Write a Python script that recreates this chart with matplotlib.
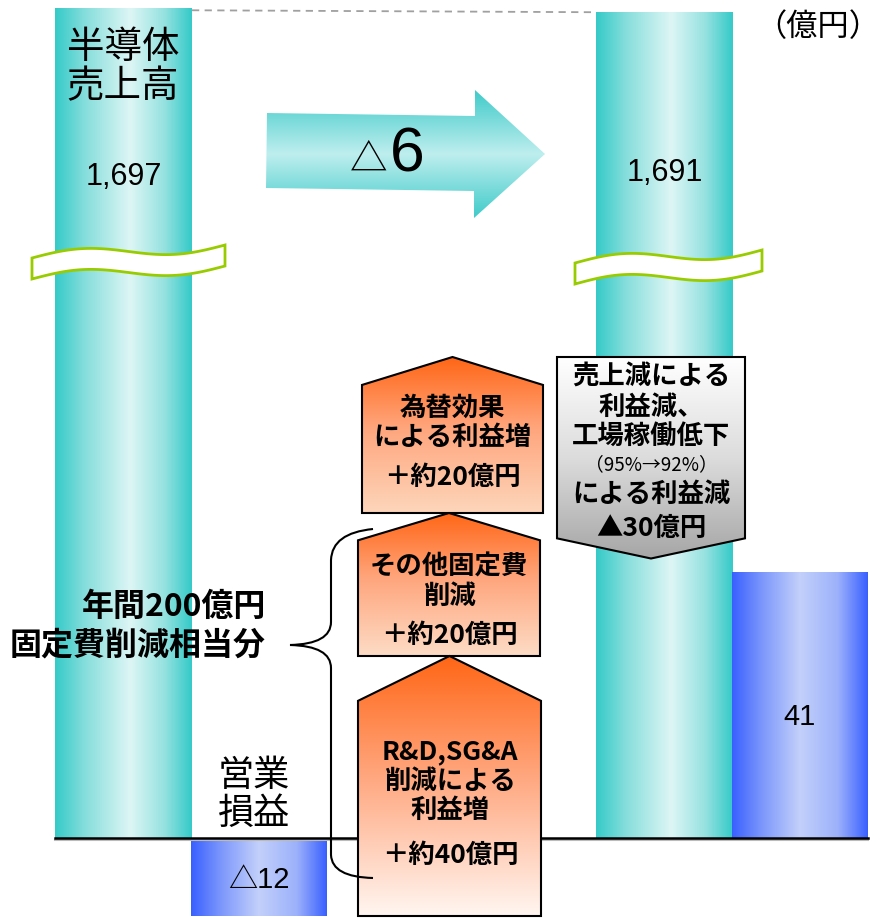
import numpy as np
import matplotlib
matplotlib.use('Agg')
import matplotlib.pyplot as plt
from matplotlib.patches import Polygon, PathPatch
from matplotlib.path import Path
from matplotlib.colors import LinearSegmentedColormap

# ---------------- data ----------------
sales_values = [1697, 1691]
sales_labels = ['1,697', '1,691']
sales_change_label = '△6'
profit_values = [-12, 41]
profit_labels = ['△12', '41']
step_names = ['R&D,SG&A\n削減による\n利益増', 'その他固定費\n削減', '為替効果\nによる利益増',
              '売上減による\n利益減、\n工場稼働低下']
step_values = [40, 22, 24, -31]
step_amount_labels = ['＋約40億円', '＋約20億円', '＋約20億円', '▲30億円']
sales_note = '（95%→92%）'
sales_tail = 'による利益減'
unit_label = '（億円）'
sales_title = '半導体\n売上高'
profit_title = '営業\n損益'
brace_label = ['年間200億円', '固定費削減相当分']

# ---------------- layout ----------------
W, H = 886, 918
BASE_PX = 838
PXU = 6.5


def P(py):
    return (BASE_PX - py) / PXU


JP = ['Noto Sans CJK JP', 'DejaVu Sans']
NUM = ['Liberation Sans', 'Noto Sans CJK JP', 'DejaVu Sans']

fig = plt.figure(figsize=(8.86, 9.18), dpi=100)
ax = fig.add_axes([0, 0, 1, 1])
ax.axis('off')


def gradient(verts, stops, vertical=False, zorder=1, edge='none', lw=1.5):
    xs = [v[0] for v in verts]
    ys = [v[1] for v in verts]
    x0, x1, y0, y1 = min(xs), max(xs), min(ys), max(ys)
    cmap = LinearSegmentedColormap.from_list('g', stops)
    g = np.linspace(0, 1, 256)
    arr = g[:, None] if vertical else g[None, :]
    poly = Polygon(verts, closed=True, facecolor='none', edgecolor=edge, lw=lw,
                   zorder=zorder + 0.1, joinstyle='miter')
    ax.add_patch(poly)
    im = ax.imshow(arr, cmap=cmap, extent=[x0, x1, y0, y1], origin='lower',
                   aspect='auto', zorder=zorder, interpolation='bilinear')
    im.set_clip_path(poly)
    return poly


TEAL = [(0, '#35CAC8'), (0.22, '#86DEDC'), (0.55, '#DDF6F5'), (0.8, '#95E2E0'), (1, '#35CAC8')]
BLUE = [(0, '#3960FF'), (0.22, '#7C97FC'), (0.5, '#C3D0FA'), (0.78, '#9CB1FB'), (1, '#3960FF')]

# sales bars (broken axis: top only reflects relative change)
sales_x = [123.5, 664.5]
bar_w = 137
for xc, v in zip(sales_x, sales_values):
    top = P(8) + (v - sales_values[0]) * 0.1
    x0, x1 = xc - bar_w / 2, xc + bar_w / 2
    gradient([(x0, 0), (x1, 0), (x1, top), (x0, top)], TEAL, zorder=1)

# dashed link between sales bar tops
t0 = P(8)
t1 = P(8) + (sales_values[1] - sales_values[0]) * 0.1
ax.plot([sales_x[0] + bar_w / 2, sales_x[1] - bar_w / 2], [t0 - 0.35, t1 - 0.05],
        color='#A0A0A0', lw=1.3, ls=(0, (4, 3)), zorder=2)

# profit bars
profit_x = [259, 800]
for xc, v in zip(profit_x, profit_values):
    x0, x1 = xc - 136 / 2, xc + 136 / 2
    gradient([(x0, 0), (x1, 0), (x1, v), (x0, v)], BLUE, zorder=1)

# baseline
ax.plot([55, 868], [P(840), P(840)], color='#BBBBBB', lw=1.5, zorder=3.5)
ax.plot([55, 868], [0, 0], color='black', lw=1.8, zorder=4)

# break bands
for dx, dy, wdt in [(32, 0, 193), (575, 5, 187)]:
    t = np.linspace(0, 1, 120)
    xs = dx + wdt * t
    ytop = 258 + dy - 13 * t - 6 * np.sin(2 * np.pi * t)
    ybot = ytop + 21
    verts = list(zip(xs, P(ytop))) + list(zip(xs[::-1], P(ybot[::-1])))
    ax.add_patch(Polygon(verts, closed=True, facecolor='white', edgecolor='#99CC00',
                         lw=2.0, zorder=3))

# big arrow
arrow_px = [(267, 113), (475, 116), (475, 90), (545, 154), (474, 218), (474, 191), (266, 188)]
gradient([(x, P(y)) for x, y in arrow_px],
         [(0, '#3FCBCA'), (0.5, '#BFEEEE'), (1, '#3FCBCA')], vertical=True, zorder=3)

# waterfall pentagons
ORANGE_BOTTOMS = ['#FFF6F1', '#FDDCC6', '#FDD6BB']
step_x = [(358, 541), (358, 540), (362, 543), (557, 745)]
heads = [6.9, 4.2, 4.3, 3.1]
cum = profit_values[0]
for i, v in enumerate(step_values):
    x0, x1 = step_x[i]
    xc = (x0 + x1) / 2
    lo, hi = cum, cum + v
    if v > 0:
        verts = [(x0, lo), (x1, lo), (x1, hi - heads[i]), (xc, hi), (x0, hi - heads[i])]
        stops = [(0, ORANGE_BOTTOMS[i]), (0.55, '#FFA57C'), (1, '#FF6616')]
    else:
        verts = [(x0, lo), (x1, lo), (x1, hi + heads[i]), (xc, hi), (x0, hi + heads[i])]
        stops = [(0, '#A6A6A6'), (0.5, '#DCDCDC'), (1, '#FFFFFF')]
    gradient(verts, stops, vertical=True, zorder=5, edge='black', lw=1.5)
    cum = hi

FS = 19
BOLD = dict(family=JP, fontweight='bold', ha='center', va='center', zorder=8, color='black')
# R&D
ax.text(450, P(781), step_names[0], fontsize=FS, linespacing=1.12, **BOLD)
ax.text(450, P(855), step_amount_labels[0], fontsize=FS, **BOLD)
# other fixed costs
ax.text(449, P(582), step_names[1], fontsize=FS, linespacing=1.12, **BOLD)
ax.text(449, P(635), step_amount_labels[1], fontsize=FS, **BOLD)
# FX
ax.text(452, P(423), step_names[2], fontsize=FS, linespacing=1.12, **BOLD)
ax.text(452, P(477), step_amount_labels[2], fontsize=FS, **BOLD)
# sales decrease
ax.text(651, P(407), step_names[3], fontsize=FS, linespacing=1.12, **BOLD)
ax.text(651, P(465), sales_note, fontsize=13.5, family=JP, ha='center', va='center', zorder=8)
ax.text(651, P(494), sales_tail, fontsize=FS, **BOLD)
ax.text(651, P(528), step_amount_labels[3], fontsize=FS, **BOLD)

# brace
bp = [(373, 529), (332, 533), (331, 560), (331, 622), (331, 644), (290, 645),
      (331, 646), (331, 668), (331, 855), (332, 877), (373, 878)]
codes = [Path.MOVETO, Path.CURVE3, Path.CURVE3, Path.LINETO, Path.CURVE3, Path.CURVE3,
         Path.CURVE3, Path.CURVE3, Path.LINETO, Path.CURVE3, Path.CURVE3]
ax.add_patch(PathPatch(Path([(x, P(y)) for x, y in bp], codes), facecolor='none',
                       edgecolor='black', lw=1.5, zorder=7))
ax.text(266, P(607), brace_label[0], fontsize=23, family=JP, fontweight='bold',
        ha='right', va='center', zorder=8)
ax.text(266, P(645), brace_label[1], fontsize=23, family=JP, fontweight='bold',
        ha='right', va='center', zorder=8)

# titles and values
ax.text(123, P(67), sales_title, fontsize=27, family=JP, ha='center', va='center',
        linespacing=1.0, zorder=8)
ax.text(sales_x[0], P(177), sales_labels[0], fontsize=22, family=NUM, ha='center', va='center', zorder=8)
ax.text(sales_x[1], P(173), sales_labels[1], fontsize=22, family=NUM, ha='center', va='center', zorder=8)
ax.text(387, P(160), sales_change_label[0], fontsize=27, family=JP, ha='right', va='center', zorder=8)
ax.text(390, P(155), sales_change_label[1:], fontsize=45, family=NUM, ha='left', va='center', zorder=8)
ax.text(818, P(27), unit_label, fontsize=22.5, family=JP, ha='center', va='center', zorder=8)
ax.text(254, P(795), profit_title, fontsize=26, family=JP, ha='center', va='center',
        linespacing=1.05, zorder=8)
ax.text(profit_x[0], P(880), profit_labels[0], fontsize=21, family=NUM, ha='center', va='center', zorder=8)
ax.text(profit_x[1], P(717), profit_labels[1], fontsize=21, family=NUM, ha='center', va='center', zorder=8)

ax.set_xlim(0, W)
ax.set_ylim(P(H), P(0))
fig.savefig('out.png', dpi=100)
